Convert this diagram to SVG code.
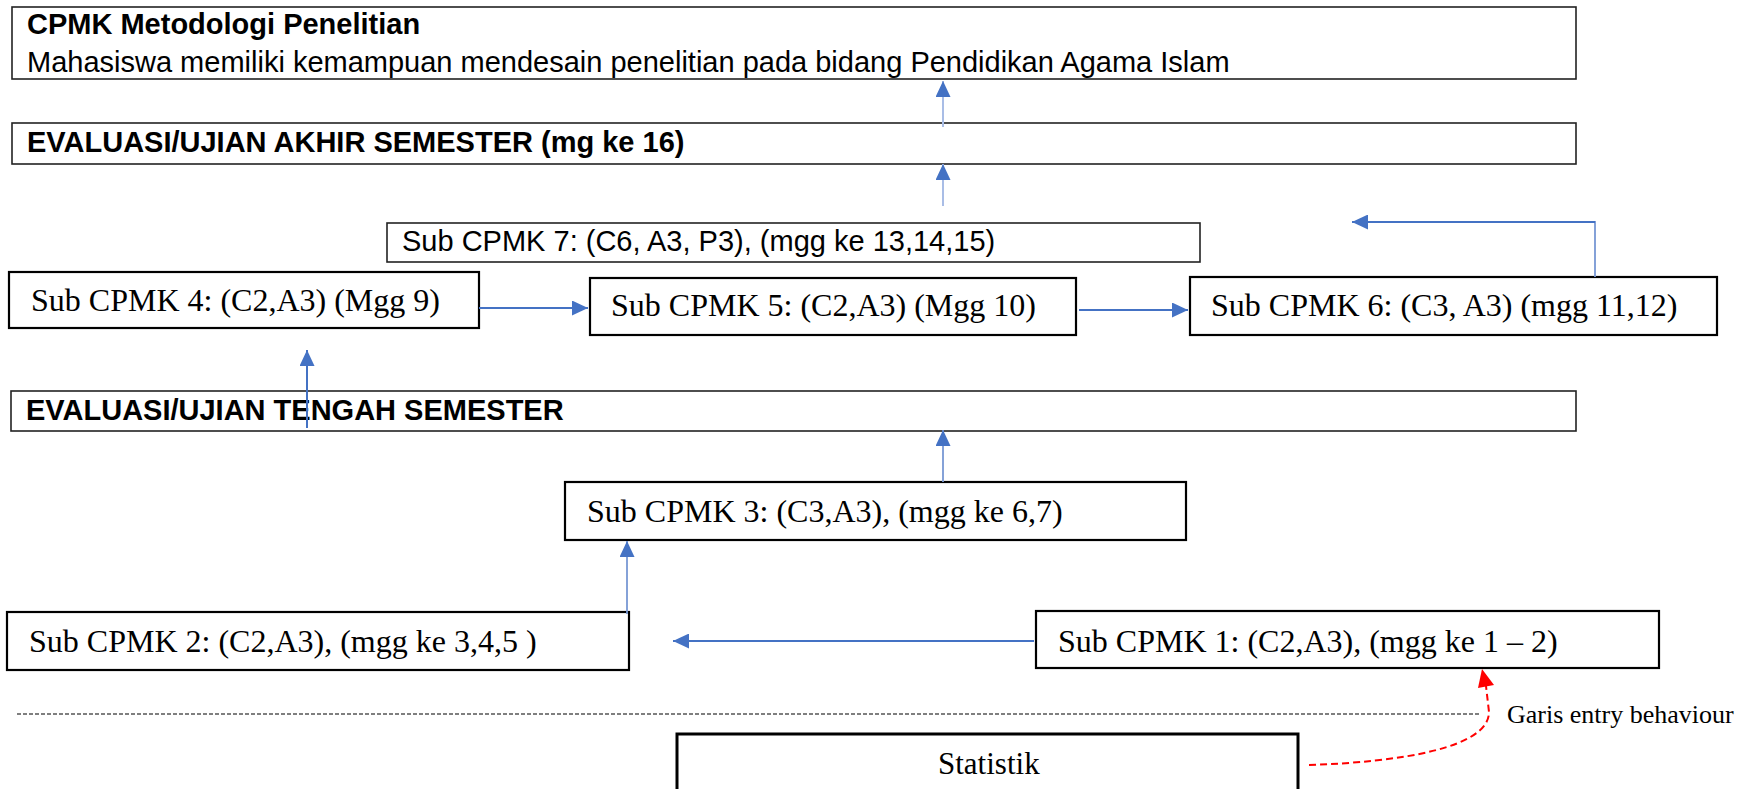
<svg xmlns="http://www.w3.org/2000/svg" width="1740" height="789" viewBox="0 0 1740 789">
<style>
.box{fill:#fff;stroke:#222;stroke-width:1.6}
.sbox{fill:#fff;stroke:#000;stroke-width:2.2}
.sans{font-family:"Liberation Sans",Arial,sans-serif;font-size:29px;fill:#000}
.bold{font-weight:bold}
.serif{font-family:"Liberation Serif","Times New Roman",serif;font-size:32px;fill:#000}
.c{fill:none;stroke:#4472C4;stroke-width:2}
.cl{fill:none;stroke:#A9BDE6;stroke-width:2}
.cm{fill:none;stroke:#7898D4;stroke-width:1.8}
</style>
<defs>
<marker id="ah" markerUnits="userSpaceOnUse" markerWidth="16" markerHeight="15" refX="16" refY="7.5" orient="auto">
<path d="M0,0 L16,7.5 L0,15 z" fill="#4472C4"/>
</marker>
</defs>
<rect width="1740" height="789" fill="#fff"/>

<g id="cpmk">
<rect class="box" x="12" y="7" width="1564" height="72"/>
<text class="sans bold" x="27" y="34">CPMK Metodologi Penelitian</text>
<text class="sans" x="27" y="72">Mahasiswa memiliki kemampuan mendesain penelitian pada bidang Pendidikan Agama Islam</text>
</g>

<g id="uas">
<rect class="box" x="12" y="123" width="1564" height="41"/>
<text class="sans bold" x="27" y="152">EVALUASI/UJIAN AKHIR SEMESTER (mg ke 16)</text>
</g>

<g id="sub7">
<rect class="box" x="387" y="223" width="813" height="39"/>
<text class="sans" x="402" y="251">Sub CPMK 7: (C6, A3, P3), (mgg ke 13,14,15)</text>
</g>

<g id="sub4">
<rect class="sbox" x="9" y="272" width="470" height="56"/>
<text class="serif" x="31" y="311">Sub CPMK 4: (C2,A3) (Mgg 9)</text>
</g>

<g id="sub5">
<rect class="sbox" x="590" y="278" width="486" height="57" stroke-width="2.6"/>
<text class="serif" x="611" y="316">Sub CPMK 5: (C2,A3) (Mgg 10)</text>
</g>

<g id="sub6">
<rect class="sbox" x="1190" y="277" width="527" height="58"/>
<text class="serif" x="1211" y="316">Sub CPMK 6: (C3, A3) (mgg 11,12)</text>
</g>

<g id="uts">
<rect class="box" x="11" y="391" width="1565" height="40"/>
<text class="sans bold" x="26" y="420">EVALUASI/UJIAN TENGAH SEMESTER</text>
</g>

<g id="sub3">
<rect class="sbox" x="565" y="482" width="621" height="58"/>
<text class="serif" x="587" y="522">Sub CPMK 3: (C3,A3), (mgg ke 6,7)</text>
</g>

<g id="sub2">
<rect class="sbox" x="7" y="612" width="622" height="58"/>
<text class="serif" x="29" y="652">Sub CPMK 2: (C2,A3), (mgg ke 3,4,5 )</text>
</g>

<g id="sub1">
<rect class="sbox" x="1036" y="611" width="623" height="57"/>
<text class="serif" x="1058" y="652">Sub CPMK 1: (C2,A3), (mgg ke 1 – 2)</text>
</g>

<g id="garis">
<text class="serif" x="1507" y="723" style="font-size:26px">Garis entry behaviour</text>
</g>

<g id="statistik">
<rect x="677" y="734" width="621" height="70" fill="#fff" stroke="#000" stroke-width="3"/>
<text class="serif" x="938" y="774" style="font-size:31px">Statistik</text>
</g>

<g id="connectors">
<line class="cl" x1="943" y1="127" x2="943" y2="81" marker-end="url(#ah)"/>
<line class="cl" x1="943" y1="206" x2="943" y2="164" marker-end="url(#ah)"/>
<polyline class="cm" points="1595,277 1595,222 1450,222"/>
<line class="c" x1="1595" y1="222" x2="1352" y2="222" marker-end="url(#ah)"/>
<line class="c" x1="479" y1="308" x2="588" y2="308" marker-end="url(#ah)"/>
<line class="c" x1="1079" y1="310" x2="1188" y2="310" marker-end="url(#ah)"/>
<line class="c" x1="307" y1="428" x2="307" y2="350" marker-end="url(#ah)"/>
<line class="cm" x1="943" y1="482" x2="943" y2="430" marker-end="url(#ah)"/>
<line class="cm" x1="627" y1="614" x2="627" y2="541" marker-end="url(#ah)"/>
<line class="c" x1="1034" y1="641" x2="673" y2="641" marker-end="url(#ah)"/>
<line x1="17" y1="714" x2="1481" y2="714" stroke="#000" stroke-width="1.2" stroke-dasharray="4 2"/>
<path d="M1309,765 C1400,762 1489,748 1489,712 L1486,686" fill="none" stroke="#FF0000" stroke-width="2" stroke-dasharray="7 4"/>
<path d="M1482,669 L1494,685 L1478,688 z" fill="#FF0000"/>
</g>
</svg>
